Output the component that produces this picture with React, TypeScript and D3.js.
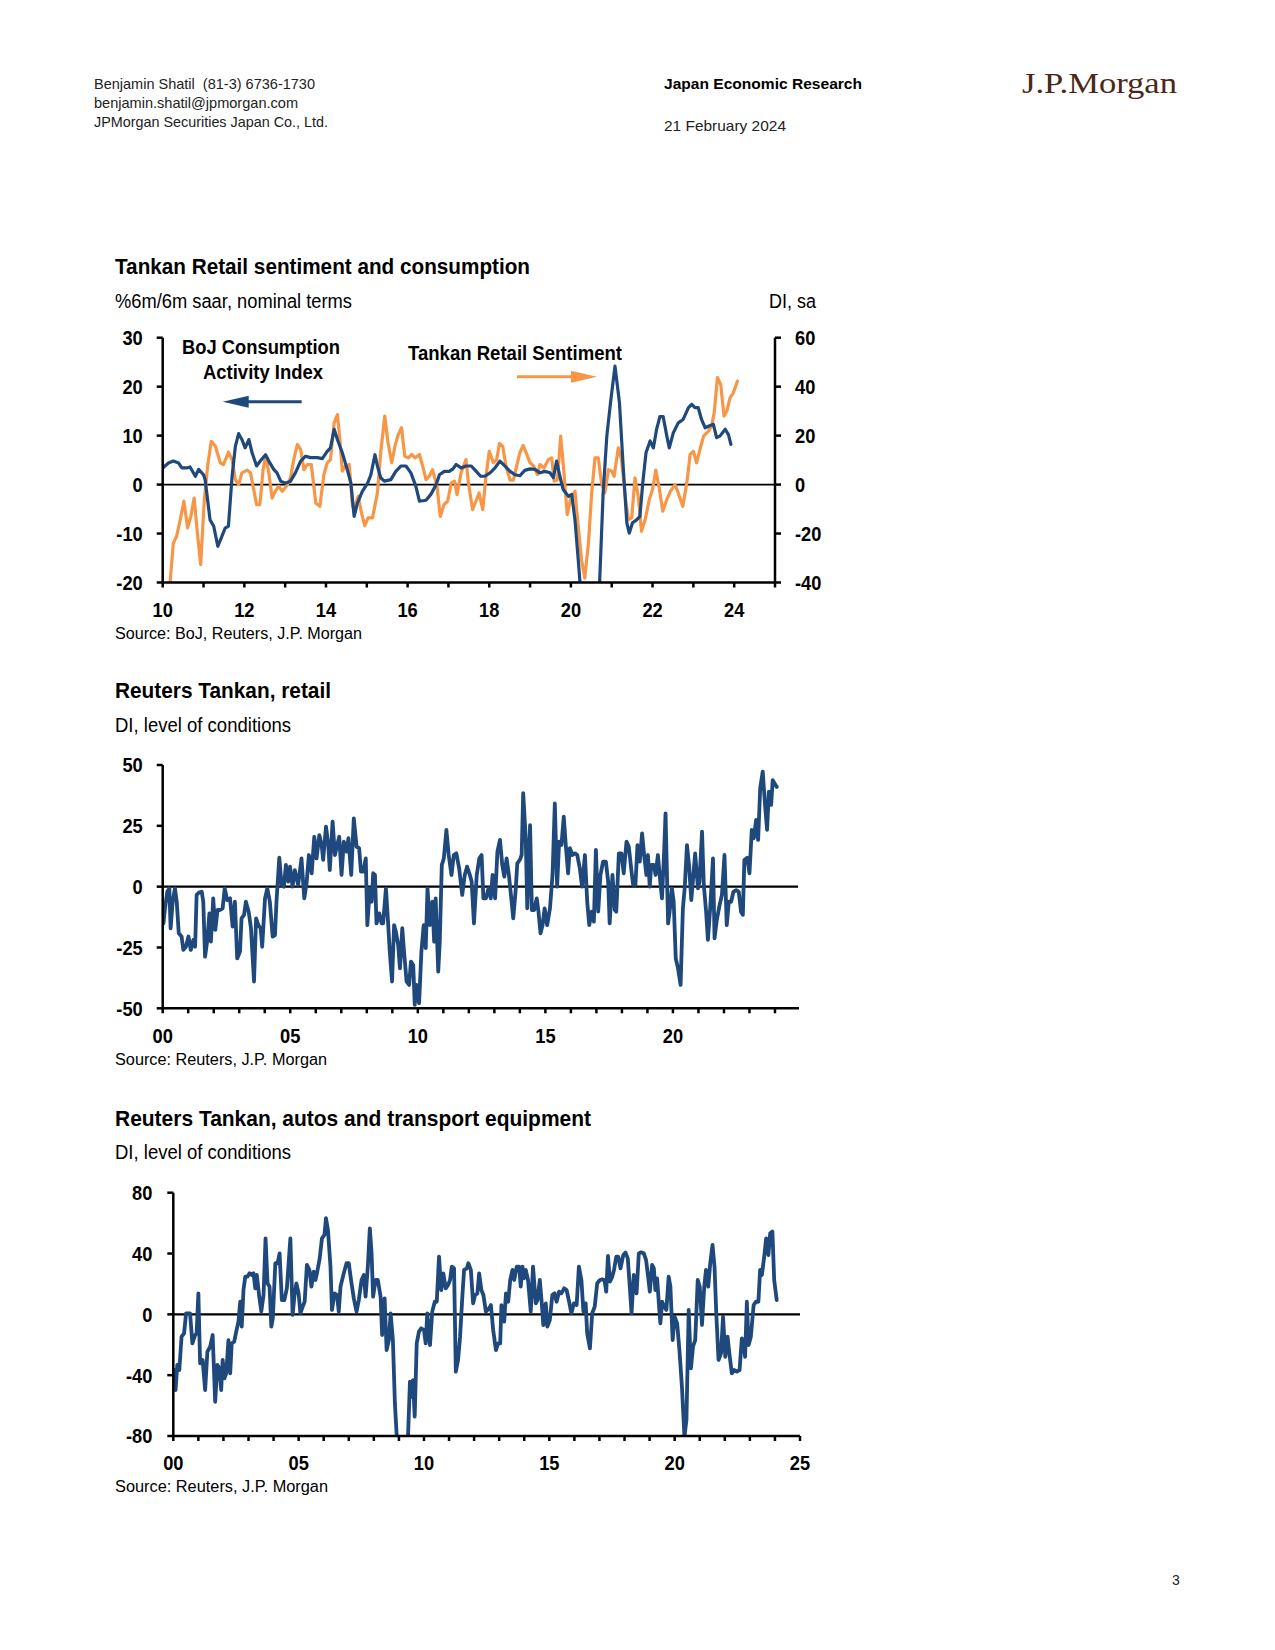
import React from "react";
import * as d3 from "d3";

const SANS = "'Liberation Sans',Arial,'DejaVu Sans',sans-serif";
const BLUE = "#1F497D";
const ORANGE = "#F79646";

// ---------- Chart 1: Tankan Retail sentiment and consumption ----------
const bojYears = [2010.0,2010.14,2010.26,2010.39,2010.47,2010.59,2010.67,2010.8,2010.88,2011.0,2011.04,2011.16,2011.25,2011.35,2011.45,2011.53,2011.61,2011.7,2011.78,2011.86,2011.94,2012.02,2012.11,2012.19,2012.3,2012.39,2012.52,2012.6,2012.72,2012.8,2012.89,2013.01,2013.13,2013.25,2013.38,2013.5,2013.62,2013.79,2013.91,2014.03,2014.11,2014.2,2014.28,2014.4,2014.52,2014.61,2014.69,2014.77,2014.89,2015.02,2015.1,2015.2,2015.26,2015.34,2015.43,2015.59,2015.71,2015.84,2015.96,2016.08,2016.2,2016.29,2016.45,2016.57,2016.7,2016.78,2016.9,2017.02,2017.11,2017.19,2017.31,2017.43,2017.56,2017.68,2017.79,2017.89,2018.02,2018.14,2018.26,2018.38,2018.51,2018.63,2018.75,2018.87,2019.0,2019.12,2019.24,2019.36,2019.49,2019.57,2019.65,2019.73,2019.81,2019.94,2020.02,2020.1,2020.18,2020.26,2020.39,2020.51,2020.67,2020.79,2020.88,2020.97,2021.08,2021.19,2021.28,2021.37,2021.43,2021.51,2021.61,2021.69,2021.76,2021.84,2021.94,2022.02,2022.1,2022.18,2022.26,2022.35,2022.41,2022.51,2022.63,2022.75,2022.88,2022.96,2023.04,2023.12,2023.2,2023.29,2023.37,2023.49,2023.57,2023.65,2023.78,2023.86,2023.92];
const bojValues = [3.4,4.4,4.8,4.4,3.4,3.4,3.6,1.7,3.1,2.0,1.0,-7.2,-8.5,-12.6,-10.6,-8.9,-8.5,1.7,7.8,10.4,9.2,7.5,9.2,6.5,3.8,4.8,6.1,4.8,3.1,2.4,0.7,0.3,0.7,2.4,4.8,5.8,5.5,5.5,5.3,6.8,7.5,11.3,9.2,6.5,3.1,0.3,-6.5,-3.8,-1.4,0.3,2.0,6.1,3.8,1.4,0.7,1.0,2.7,3.8,3.8,2.4,-0.3,-3.4,-3.2,-2.0,0,2.0,2.7,2.7,3.2,4.1,3.4,3.8,3.8,2.7,1.7,1.7,2.4,3.4,4.8,3.8,2.7,2.0,1.8,2.9,3.2,3.1,2.4,2.7,2.4,1.4,4.8,1.7,-1.0,-2.4,-2.0,-7.2,-15.4,-24,-33,-35,-27,-1.7,9.9,16.7,24.2,16.7,3.8,-7.8,-9.9,-7.8,-7.2,-6.5,0.3,6.5,8.9,7.5,11.3,13.9,13.9,9.9,7.5,10.6,12.6,13.3,15.7,16.4,15.7,15.7,13.3,11.6,11.9,12.3,9.6,9.9,11.3,10.2,8.2];

const tankanYears = [2010.14,2010.18,2010.26,2010.34,2010.43,2010.52,2010.61,2010.69,2010.77,2010.85,2010.93,2011.02,2011.1,2011.19,2011.29,2011.41,2011.49,2011.61,2011.7,2011.78,2011.86,2011.94,2012.07,2012.15,2012.23,2012.3,2012.38,2012.46,2012.52,2012.6,2012.68,2012.76,2012.84,2012.93,2013.03,2013.13,2013.21,2013.3,2013.38,2013.46,2013.54,2013.64,2013.75,2013.85,2013.95,2014.03,2014.11,2014.2,2014.28,2014.34,2014.4,2014.47,2014.57,2014.65,2014.7,2014.79,2014.87,2014.95,2015.03,2015.14,2015.26,2015.34,2015.44,2015.52,2015.61,2015.69,2015.77,2015.85,2015.93,2016.02,2016.1,2016.18,2016.29,2016.37,2016.45,2016.53,2016.61,2016.72,2016.8,2016.89,2016.98,2017.07,2017.15,2017.21,2017.31,2017.43,2017.49,2017.59,2017.69,2017.75,2017.84,2017.92,2018.0,2018.1,2018.18,2018.25,2018.33,2018.41,2018.51,2018.59,2018.67,2018.75,2018.83,2018.92,2019.0,2019.09,2019.18,2019.24,2019.34,2019.45,2019.53,2019.59,2019.67,2019.75,2019.83,2019.91,2019.99,2020.1,2020.18,2020.26,2020.34,2020.43,2020.51,2020.59,2020.67,2020.75,2020.83,2020.92,2021.0,2021.06,2021.16,2021.24,2021.33,2021.41,2021.49,2021.57,2021.65,2021.73,2021.82,2021.92,2022.0,2022.08,2022.17,2022.25,2022.35,2022.44,2022.55,2022.63,2022.74,2022.84,2022.92,2023.0,2023.08,2023.16,2023.25,2023.37,2023.45,2023.51,2023.59,2023.67,2023.75,2023.82,2023.9,2023.98,2024.08];
const tankanValues = [-41,-40.2,-23.9,-21.1,-14.3,-6.8,-17.7,-13.0,-5.5,-19.8,-32.7,-6.1,7.5,17.7,15.7,8.9,8.2,13.2,10.2,2.0,0,4.8,5.9,4.8,-2.0,-8.2,-8.2,6.1,11.6,4.8,-5.5,-2.7,-0.7,-2.7,-0.7,2.7,10.2,16.4,14.3,6.1,8.2,8.2,-7.5,-8.9,4.1,8.9,10.2,25.2,28.6,18.4,5.5,7.5,8.2,-8.9,-9.5,-4.8,-11.6,-16.8,-13.6,-13.6,-3.4,13.0,28.0,17.1,8.9,15.7,20.5,23.2,11.6,10.9,12.3,10.9,12.3,7.5,2.0,3.4,6.1,-0.7,-13.0,-8.2,-6.8,0.7,1.4,-4.1,4.8,10.2,0.7,-10.2,-6.1,-3.4,-10.2,3.4,13.6,8.9,10.2,16.8,15.7,7.5,1.8,1.8,7.5,13.0,16.0,12.3,8.9,7.5,4.1,8.2,6.8,10.2,10.9,1.4,2.0,19.8,4.8,-12.3,-6.1,-2.7,-17.1,-30.7,-38.2,-23.9,-3.4,10.9,10.9,0.7,-3.4,6.1,5.5,3.4,15.0,10.2,-4.8,-14.3,-13.6,2.7,-4.8,-19.1,-14.3,-6.1,-2.0,5.9,-2.0,-10.9,-6.1,-2.7,0,-3.4,-8.9,0.7,12.3,13.6,8.9,14.3,19.8,21.8,24.1,29.3,43.7,40.9,28.0,30.0,35.5,37.5,42.3];

const c1LeftTicks = [-20, -10, 0, 10, 20, 30];
const c1RightTicks = [-40, -20, 0, 20, 40, 60];
const c1TickYears = d3.range(2010, 2026);
const c1LabelYears = [2010, 2012, 2014, 2016, 2018, 2020, 2022, 2024];

// ---------- Chart 2: Reuters Tankan, retail ----------
const retailYears = [2000.03,2000.09,2000.18,2000.26,2000.31,2000.39,2000.48,2000.55,2000.63,2000.74,2000.81,2000.91,2001.01,2001.1,2001.2,2001.27,2001.33,2001.44,2001.53,2001.59,2001.66,2001.75,2001.83,2001.89,2001.98,2002.06,2002.15,2002.25,2002.35,2002.43,2002.53,2002.64,2002.74,2002.83,2002.92,2003.03,2003.09,2003.19,2003.26,2003.37,2003.46,2003.58,2003.66,2003.75,2003.84,2003.9,2004.01,2004.1,2004.2,2004.31,2004.4,2004.46,2004.57,2004.66,2004.75,2004.83,2004.92,2004.99,2005.09,2005.18,2005.31,2005.44,2005.55,2005.64,2005.73,2005.84,2005.94,2006.03,2006.14,2006.23,2006.29,2006.4,2006.49,2006.55,2006.66,2006.75,2006.84,2006.92,2007.01,2007.1,2007.21,2007.28,2007.39,2007.49,2007.6,2007.7,2007.77,2007.86,2007.96,2008.02,2008.12,2008.19,2008.25,2008.32,2008.38,2008.49,2008.58,2008.64,2008.75,2008.84,2008.9,2008.99,2009.07,2009.14,2009.23,2009.3,2009.39,2009.46,2009.56,2009.66,2009.73,2009.82,2009.88,2009.95,2010.05,2010.14,2010.23,2010.31,2010.38,2010.47,2010.57,2010.64,2010.7,2010.8,2010.86,2010.94,2011.02,2011.12,2011.21,2011.32,2011.41,2011.51,2011.62,2011.74,2011.84,2011.93,2012.04,2012.11,2012.2,2012.31,2012.41,2012.5,2012.57,2012.67,2012.77,2012.86,2012.93,2013.03,2013.12,2013.22,2013.31,2013.39,2013.48,2013.57,2013.65,2013.74,2013.83,2013.9,2014.0,2014.07,2014.13,2014.23,2014.29,2014.4,2014.47,2014.56,2014.66,2014.73,2014.81,2014.89,2014.97,2015.07,2015.18,2015.28,2015.37,2015.46,2015.54,2015.63,2015.72,2015.8,2015.89,2015.96,2016.06,2016.16,2016.25,2016.35,2016.44,2016.55,2016.64,2016.72,2016.81,2016.9,2016.98,2017.07,2017.16,2017.26,2017.37,2017.46,2017.52,2017.63,2017.72,2017.78,2017.88,2017.98,2018.07,2018.18,2018.27,2018.37,2018.44,2018.53,2018.61,2018.7,2018.79,2018.87,2018.96,2019.02,2019.09,2019.15,2019.25,2019.32,2019.41,2019.51,2019.57,2019.65,2019.71,2019.81,2019.87,2019.96,2020.03,2020.11,2020.2,2020.3,2020.39,2020.46,2020.55,2020.63,2020.72,2020.78,2020.87,2020.98,2021.04,2021.14,2021.21,2021.3,2021.37,2021.46,2021.57,2021.63,2021.72,2021.83,2021.92,2022.02,2022.11,2022.19,2022.28,2022.37,2022.48,2022.58,2022.67,2022.74,2022.8,2022.91,2023.0,2023.09,2023.17,2023.26,2023.34,2023.42,2023.52,2023.61,2023.69,2023.76,2023.85,2023.91,2024.02,2024.07];
const retailValues = [-15.1,-8.9,-2.1,-0.7,-17.1,-6.2,-0.7,-6.2,-19.2,-20.5,-26.0,-24.7,-20.5,-26.0,-21.9,-24.7,-3.4,-2.3,-2.1,-6.2,-28.8,-21.9,-11.0,-22.6,-4.8,-17.8,-9.6,-9.6,-8.9,-0.7,-5.5,-4.8,-16.4,-6.2,-29.5,-26.7,-13.0,-11.6,-6.2,-10.3,-17.1,-39.0,-13.0,-15.8,-17.1,-24.7,-4.8,-0.7,-6.2,-20.5,-19.9,-6.2,11.9,0.7,0,8.9,2.1,8.2,0,6.8,0.7,11.6,-4.8,1.4,13.0,5.5,20.5,11.6,21.2,17.1,11.0,24.7,17.1,6.8,26.7,13.0,17.1,20.5,4.8,18.5,14.4,19.9,4.8,28.1,16.4,15.8,6.2,6.2,11.6,-15.8,-0.7,-6.2,5.5,4.8,-15.1,-11.0,-15.1,-15.1,-0.7,-15.8,-26.7,-39.0,-15.8,-18.5,-24.0,-33.6,-17.1,-26.7,-39.0,-40.4,-30.8,-32.2,-48.6,-40.4,-47.9,-26.7,-15.8,-25.3,-0.7,-15.8,-6.2,-22.6,-4.8,-34.9,-22.6,8.9,11.6,23.3,13.0,4.8,13.0,13.7,7.5,-3.4,4.8,8.2,4.8,2.1,-15.1,4.8,11.6,13.0,-4.8,-4.8,-0.7,-4.8,4.8,-4.8,14.4,19.2,8.9,4.1,11.6,4.8,-3.4,-13.0,-2.1,9.6,11.0,13.0,38.4,19.9,-8.9,25.3,-9.6,-9.6,-4.8,-10.3,-19.2,-15.8,-8.9,-15.8,-8.9,4.8,34.2,0,18.5,17.1,28.8,17.1,5.5,15.8,13.0,13.7,13.0,7.5,0,13.0,-6.2,-15.8,-10.3,-14.4,15.1,-10.3,4.8,10.3,10.3,2.1,-15.1,4.8,-9.6,-10.3,13.7,13.7,5.5,18.5,16.4,6.8,0.7,0.7,17.1,10.3,21.9,13.0,4.8,13.0,0,8.9,8.9,4.8,13.0,1.4,-4.8,13.0,30.1,-15.1,-10.3,-0.7,-6.2,-29.5,-33.6,-40.4,-8.9,-0.7,17.1,8.9,-5.5,2.1,13.7,-0.7,2.1,22.6,0.7,-10.3,-21.9,-8.9,11.6,-21.2,-13.7,-7.5,-3.4,13.0,-15.8,-6.2,-6.2,-2.1,-1.4,-2.1,-10.3,-11.6,11.0,11.9,5.5,23.3,19.9,27.4,19.2,40.4,47.3,33.6,23.3,39.0,33.6,43.8,41.8,41.0];

const c2Ticks = [-50, -25, 0, 25, 50];
const c2TickYears = d3.range(2000, 2025);
const c2LabelYears = [2000, 2005, 2010, 2015, 2020];

// ---------- Chart 3: Reuters Tankan, autos and transport equipment ----------
const autoYears = [2000.03,2000.09,2000.16,2000.24,2000.33,2000.43,2000.51,2000.6,2000.67,2000.76,2000.87,2000.93,2001.0,2001.07,2001.17,2001.27,2001.36,2001.47,2001.57,2001.67,2001.76,2001.84,2001.91,2001.97,2002.04,2002.11,2002.2,2002.27,2002.33,2002.43,2002.51,2002.6,2002.67,2002.73,2002.8,2002.87,2002.96,2003.04,2003.13,2003.2,2003.27,2003.33,2003.43,2003.51,2003.6,2003.68,2003.76,2003.84,2003.91,2003.97,2004.07,2004.16,2004.24,2004.33,2004.43,2004.53,2004.67,2004.76,2004.83,2004.91,2005.0,2005.07,2005.16,2005.24,2005.33,2005.43,2005.51,2005.6,2005.67,2005.73,2005.84,2005.93,2006.03,2006.09,2006.17,2006.27,2006.33,2006.43,2006.53,2006.6,2006.67,2006.8,2006.91,2007.0,2007.09,2007.2,2007.31,2007.4,2007.51,2007.6,2007.67,2007.76,2007.84,2007.91,2007.97,2008.07,2008.16,2008.27,2008.33,2008.43,2008.51,2008.6,2008.67,2008.76,2008.84,2008.93,2009.07,2009.23,2009.36,2009.44,2009.49,2009.56,2009.63,2009.71,2009.8,2009.89,2010.0,2010.07,2010.13,2010.24,2010.33,2010.43,2010.51,2010.6,2010.69,2010.77,2010.87,2010.96,2011.04,2011.11,2011.2,2011.27,2011.36,2011.44,2011.53,2011.6,2011.71,2011.77,2011.87,2011.96,2012.04,2012.13,2012.2,2012.29,2012.37,2012.47,2012.6,2012.67,2012.76,2012.87,2012.96,2013.04,2013.09,2013.2,2013.27,2013.36,2013.44,2013.53,2013.6,2013.7,2013.8,2013.86,2013.93,2013.99,2014.06,2014.15,2014.26,2014.35,2014.46,2014.53,2014.62,2014.7,2014.76,2014.86,2014.92,2015.02,2015.12,2015.21,2015.29,2015.39,2015.48,2015.59,2015.69,2015.79,2015.88,2015.98,2016.09,2016.18,2016.28,2016.36,2016.45,2016.51,2016.62,2016.71,2016.81,2016.91,2017.02,2017.11,2017.2,2017.27,2017.34,2017.42,2017.51,2017.58,2017.67,2017.75,2017.84,2017.95,2018.04,2018.13,2018.21,2018.28,2018.37,2018.48,2018.57,2018.66,2018.77,2018.86,2018.94,2019.01,2019.1,2019.17,2019.23,2019.3,2019.37,2019.43,2019.5,2019.59,2019.67,2019.76,2019.83,2019.92,2020.0,2020.1,2020.19,2020.29,2020.39,2020.47,2020.56,2020.65,2020.73,2020.82,2020.92,2021.0,2021.09,2021.18,2021.25,2021.34,2021.42,2021.51,2021.59,2021.66,2021.75,2021.85,2021.93,2022.02,2022.11,2022.19,2022.28,2022.38,2022.48,2022.59,2022.68,2022.75,2022.81,2022.88,2022.95,2023.04,2023.15,2023.24,2023.34,2023.41,2023.48,2023.58,2023.65,2023.74,2023.81,2023.9,2023.97,2024.07];
const autoValues = [-36.6,-49.8,-33.3,-36.6,-14.7,-12.5,0.7,0.7,0.7,-19.1,-13.6,-12.5,13.8,-32.2,-30.0,-49.8,-24.6,-21.3,-13.6,-57.5,-33.3,-35.5,-49.8,-30.0,-42.1,-38.8,-16.9,-38.8,-19.1,-18.0,-11.4,-4.8,8.3,-8.1,16.0,24.8,24.8,27.0,25.9,27.0,17.1,25.9,11.6,1.8,12.7,50.0,20.4,18.2,-8.1,-2.6,33.6,33.6,40.1,9.4,9.4,17.1,50.0,-0.4,11.6,20.4,13.8,0.7,5.0,8.3,32.5,29.2,18.2,28.1,22.6,27.0,36.8,50.0,52.2,63.2,55.5,31.4,2.9,13.8,12.7,1.8,18.2,27.0,33.6,33.6,22.6,10.5,1.8,9.4,22.6,25.9,11.6,31.4,56.6,40.1,11.6,22.6,22.6,11.6,-13.6,10.5,-23.5,-16.9,0.7,-16.9,-58.6,-85,-98,-95,-82,-44.3,-54.2,-43.2,-67.3,-19.1,-11.4,-9.2,-10.3,-19.1,0.7,-20.2,1.8,8.3,8.3,37.9,16.0,27.0,17.1,19.3,22.6,31.4,30.3,-37.7,-30.0,-14.7,11.6,29.2,30.3,33.6,29.2,7.2,12.7,13.8,27.0,16.0,12.7,1.8,3.9,6.1,-10.3,-23.5,-19.1,-19.1,6.1,-4.8,13.8,8.3,22.6,29.2,22.6,31.4,31.4,18.2,31.4,23.7,29.2,22.6,1.8,31.4,7.2,9.4,22.6,7.2,-7.0,7.2,-8.1,-3.7,12.7,13.8,8.3,14.9,13.8,17.1,16.0,8.3,0.7,7.2,6.1,31.4,22.6,1.8,7.2,-12.5,-22.4,0.7,5.0,20.4,22.6,23.0,22.6,14.9,38.4,21.5,24.8,29.2,37.9,37.9,30.3,39.0,40.6,36.8,18.2,0.7,25.9,13.8,40.1,40.8,40.1,35.7,24.8,14.9,32.5,30.3,16.0,23.7,7.2,-5.9,8.3,5.0,2.9,24.8,18.2,-16.9,-1.5,-5.9,-23.5,-47.6,-80.5,-69.5,2.9,-35.5,-21.3,-16.9,22.6,18.2,-7.0,18.2,29.2,18.2,33.6,45.6,31.4,0.7,-30.0,-25.7,-1.5,-27.9,-14.7,-26.8,-38.8,-36.6,-37.7,-36.6,-15.8,-19.1,-27.9,8.3,-20.2,-14.7,6.1,8.3,8.3,29.2,25.9,39.0,50.0,39.0,53.3,54.4,22.6,9.4];

const c3Ticks = [-80, -40, 0, 40, 80];
const c3TickYears = d3.range(2000, 2026);
const c3LabelYears = [2000, 2005, 2010, 2015, 2020, 2025];

type Series = { years: number[]; values: number[]; color: string; width: number; axis: "left" | "right" };

type ChartProps = {
  id: string;
  left: number; right: number; top: number; bottom: number;
  xDomain: [number, number];
  yDomain: [number, number];
  yTicks: number[];
  yRightDomain?: [number, number];
  yRightTicks?: number[];
  tickYears: number[];
  labelYears: number[];
  axisEnd: number;
  zeroEnd: number;
  zeroWidth: number;
  leftLabelGap: number;
  series: Series[];
};

const fmtYear = (y: number) => String(y % 100).padStart(2, "0");

function TickLabel({ x, y, anchor, children }: { x: number; y: number; anchor: "start" | "middle" | "end"; children: React.ReactNode }) {
  return (
    <text transform={`translate(${x},${y}) scale(0.87,1)`} textAnchor={anchor} dominantBaseline="central"
      fontFamily={SANS} fontWeight={700} fontSize={21} fill="#000">
      {children}
    </text>
  );
}

function FitText({ x, y, w, size, bold, anchor, fill, children }: {
  x: number; y: number; w: number; size: number; bold?: boolean; anchor?: "start" | "middle" | "end"; fill?: string; children: string;
}) {
  return (
    <text x={x} y={y} textLength={w} lengthAdjust="spacingAndGlyphs" textAnchor={anchor || "start"}
      dominantBaseline="central" fontFamily={SANS} fontWeight={bold ? 700 : 400} fontSize={size}
      fill={fill || "#000"} style={{ whiteSpace: "pre" }}>
      {children}
    </text>
  );
}

function Chart(p: ChartProps) {
  const x = d3.scaleLinear().domain(p.xDomain).range([p.left, p.right]);
  const y = d3.scaleLinear().domain(p.yDomain).range([p.bottom, p.top]);
  const yR = p.yRightDomain ? d3.scaleLinear().domain(p.yRightDomain).range([p.bottom, p.top]) : null;
  return (
    <g>
      <defs>
        <clipPath id={p.id}>
          <rect x={p.left} y={p.top - 20} width={p.right - p.left + 30} height={p.bottom - p.top + 20} />
        </clipPath>
      </defs>
      <line x1={p.left} x2={p.zeroEnd} y1={y(0)} y2={y(0)} stroke="#000" strokeWidth={p.zeroWidth} />
      <g clipPath={`url(#${p.id})`}>
        {p.series.map((s, i) => {
          const sc = s.axis === "right" && yR ? yR : y;
          const line = d3.line<number>().x((_, k) => x(s.years[k])).y((v) => sc(v)).curve(d3.curveLinear);
          return (
            <path key={i} d={line(s.values) || ""} fill="none" stroke={s.color} strokeWidth={s.width}
              strokeLinejoin="round" strokeLinecap="round" />
          );
        })}
      </g>
      <line x1={p.left} x2={p.left} y1={p.top} y2={p.bottom} stroke="#000" strokeWidth={2.5} />
      {p.yTicks.map((t) => (
        <g key={"l" + t}>
          <line x1={p.left - 6} x2={p.left} y1={y(t)} y2={y(t)} stroke="#000" strokeWidth={2.5} />
          <TickLabel x={p.left - p.leftLabelGap} y={y(t)} anchor="end">{t}</TickLabel>
        </g>
      ))}
      {yR && p.yRightTicks && (
        <g>
          <line x1={p.right} x2={p.right} y1={p.top} y2={p.bottom} stroke="#000" strokeWidth={2.5} />
          {p.yRightTicks.map((t) => (
            <g key={"r" + t}>
              <line x1={p.right} x2={p.right + 6} y1={yR(t)} y2={yR(t)} stroke="#000" strokeWidth={2.5} />
              <TickLabel x={p.right + 20} y={yR(t)} anchor="start">{t}</TickLabel>
            </g>
          ))}
        </g>
      )}
      <line x1={p.left} x2={p.axisEnd} y1={p.bottom} y2={p.bottom} stroke="#000" strokeWidth={2.5} />
      {p.tickYears.map((t) => (
        <line key={"t" + t} x1={x(t)} x2={x(t)} y1={p.bottom} y2={p.bottom + 5} stroke="#000" strokeWidth={2.5} />
      ))}
      {p.labelYears.map((t) => (
        <TickLabel key={"x" + t} x={x(t)} y={p.bottom + 27} anchor="middle">{fmtYear(t)}</TickLabel>
      ))}
    </g>
  );
}

function Arrow({ x1, x2, yy, color }: { x1: number; x2: number; yy: number; color: string }) {
  const dir = x2 > x1 ? 1 : -1;
  const head = 26;
  const base = x2 - dir * head;
  return (
    <g>
      <line x1={x1} x2={base + dir * 2} y1={yy} y2={yy} stroke={color} strokeWidth={3} />
      <polygon points={`${x2},${yy} ${base},${yy - 6} ${base},${yy + 6}`} fill={color} />
    </g>
  );
}

export default function App() {
  const HDR = "#222";
  return (
    <svg width={1275} height={1650} style={{ position: "absolute", left: 0, top: 0, background: "#fff" }}>
      <rect x={0} y={0} width={1275} height={1650} fill="#fff" />
      <FitText x={94} y={83} w={221} size={15} fill={HDR}>Benjamin Shatil  (81-3) 6736-1730</FitText>
      <FitText x={94} y={102} w={204} size={15} fill={HDR}>benjamin.shatil@jpmorgan.com</FitText>
      <FitText x={94} y={121} w={234} size={15} fill={HDR}>JPMorgan Securities Japan Co., Ltd.</FitText>
      <FitText x={664} y={83} w={198} size={15} bold>Japan Economic Research</FitText>
      <FitText x={664} y={125} w={122} size={15} fill={HDR}>21 February 2024</FitText>
      <text x={1022} y={93} fontFamily="'Liberation Serif','DejaVu Serif',serif" fontSize={29} fill="#4A2817"
        textLength={155} lengthAdjust="spacingAndGlyphs">J.P.Morgan</text>

      <FitText x={115} y={266} w={415} size={22} bold>Tankan Retail sentiment and consumption</FitText>
      <FitText x={115} y={301} w={237} size={19.5}>%6m/6m saar, nominal terms</FitText>
      <FitText x={816} y={301} w={47} size={19.5} anchor="end">DI, sa</FitText>
      <Chart id="clip1" left={162.7} right={775} top={337.7} bottom={582.5} xDomain={[2010, 2025]} yDomain={[-20, 30]}
        yTicks={c1LeftTicks} yRightDomain={[-40, 60]} yRightTicks={c1RightTicks} tickYears={c1TickYears}
        labelYears={c1LabelYears} axisEnd={775} zeroEnd={775} zeroWidth={1.6} leftLabelGap={20}
        series={[
          { years: tankanYears, values: tankanValues, color: ORANGE, width: 3.2, axis: "right" },
          { years: bojYears, values: bojValues, color: BLUE, width: 3.2, axis: "left" },
        ]} />
      <FitText x={261} y={347} w={158} size={20} bold anchor="middle">BoJ Consumption</FitText>
      <FitText x={263} y={372} w={120} size={20} bold anchor="middle">Activity Index</FitText>
      <Arrow x1={301.7} x2={222.7} yy={401.7} color={BLUE} />
      <FitText x={515} y={353} w={214} size={20} bold anchor="middle">Tankan Retail Sentiment</FitText>
      <Arrow x1={517} x2={597} yy={376.7} color={ORANGE} />
      <FitText x={115} y={633} w={247} size={16}>Source: BoJ, Reuters, J.P. Morgan</FitText>

      <FitText x={115} y={690} w={216} size={22} bold>Reuters Tankan, retail</FitText>
      <FitText x={115} y={725} w={176} size={19.5}>DI, level of conditions</FitText>
      <Chart id="clip2" left={162.7} right={800.5} top={765} bottom={1008.3} xDomain={[2000, 2025]} yDomain={[-50, 50]}
        yTicks={c2Ticks} tickYears={c2TickYears} labelYears={c2LabelYears} axisEnd={799} zeroEnd={798}
        zeroWidth={2.3} leftLabelGap={20}
        series={[{ years: retailYears, values: retailValues, color: BLUE, width: 3.8, axis: "left" }]} />
      <FitText x={115} y={1059} w={212} size={16}>Source: Reuters, J.P. Morgan</FitText>

      <FitText x={115} y={1118} w={476} size={22} bold>Reuters Tankan, autos and transport equipment</FitText>
      <FitText x={115} y={1152} w={176} size={19.5}>DI, level of conditions</FitText>
      <Chart id="clip3" left={173.3} right={800} top={1192.7} bottom={1436} xDomain={[2000, 2025]} yDomain={[-80, 80]}
        yTicks={c3Ticks} tickYears={c3TickYears} labelYears={c3LabelYears} axisEnd={800} zeroEnd={800}
        zeroWidth={2.3} leftLabelGap={21}
        series={[{ years: autoYears, values: autoValues, color: BLUE, width: 3.8, axis: "left" }]} />
      <FitText x={115} y={1486} w={213} size={16}>Source: Reuters, J.P. Morgan</FitText>

      <text x={1176} y={1580} textAnchor="middle" dominantBaseline="central" fontFamily={SANS} fontSize={14} fill="#222">3</text>
    </svg>
  );
}
